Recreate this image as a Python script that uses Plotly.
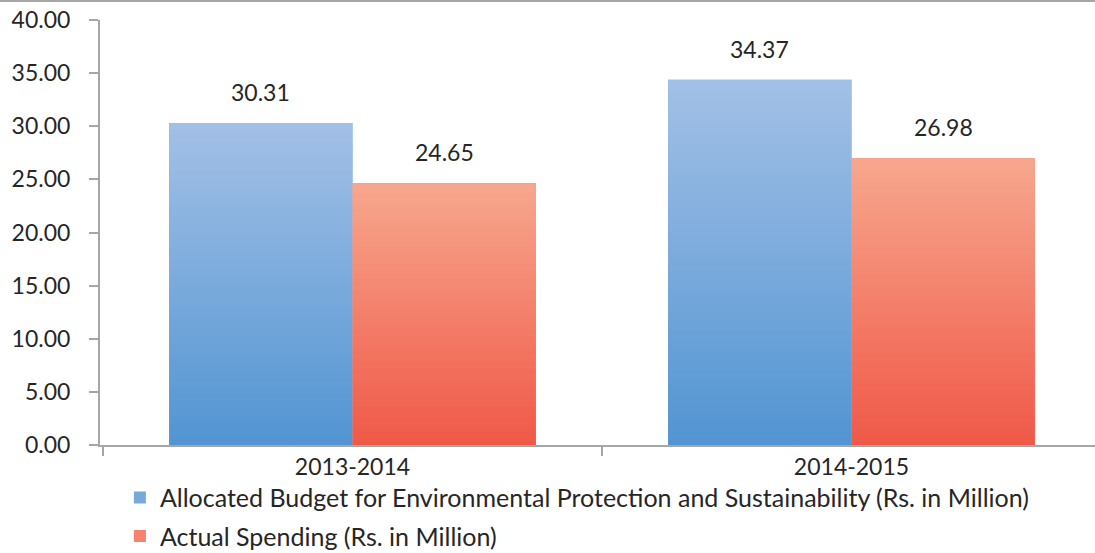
import base64
import struct
import zlib

import plotly.graph_objects as go

categories = ["2013-2014", "2014-2015"]
allocated = [30.31, 34.37]
actual = [24.65, 26.98]
series_names = [
    "Allocated Budget for Environmental Protection and Sustainability (Rs. in Million)",
    "Actual Spending (Rs. in Million)",
]
y_ticks = [0, 5, 10, 15, 20, 25, 30, 35, 40]

FONT = "Lato"
TXT = "#262626"
BARGAP = 0.265

# gradient colours (top, bottom) for each series, plus a solid mid colour
grad_colors = [((163, 192, 230), (82, 149, 210)), ((247, 167, 142), (240, 89, 72))]
solid_colors = ["#78a9dd", "#f4826c"]


def gradient_png(top, bottom, n=128):
    raw = b""
    for r in range(n):
        t = r / (n - 1)
        px = bytes(int(round(a + (b - a) * t)) for a, b in zip(top, bottom))
        raw += b"\x00" + px
    def chunk(tag, data):
        c = struct.pack(">I", len(data)) + tag + data
        return c + struct.pack(">I", zlib.crc32(tag + data) & 0xffffffff)
    png = b"\x89PNG\r\n\x1a\n"
    png += chunk(b"IHDR", struct.pack(">IIBBBBB", 1, n, 8, 2, 0, 0, 0))
    png += chunk(b"IDAT", zlib.compress(raw))
    png += chunk(b"IEND", b"")
    return "data:image/png;base64," + base64.b64encode(png).decode()


fig = go.Figure()
series = [allocated, actual]
for k, (vals, name) in enumerate(zip(series, series_names)):
    fig.add_trace(go.Bar(x=categories, y=vals, name=name, legendgroup=name,
                         marker=dict(color=solid_colors[k], line=dict(width=0))))

# gradient fill overlaid on each bar, placed through the data axes
w = (1 - BARGAP) / 2
for k, vals in enumerate(series):
    src = gradient_png(*grad_colors[k])
    for i, v in enumerate(vals):
        fig.add_layout_image(source=src, xref="x", yref="y",
                             x=i - (1 - BARGAP) / 2 + k * w, y=v,
                             sizex=w, sizey=v, xanchor="left", yanchor="top",
                             sizing="stretch", layer="above")

# value labels above bars
for k, vals in enumerate(series):
    for i, (c, v) in enumerate(zip(categories, vals)):
        fig.add_annotation(x=i - (1 - BARGAP) / 2 + (k + 0.5) * w, y=v,
                           text=f"{v:.2f}", showarrow=False,
                           yshift=31, yanchor="middle",
                           font=dict(family=FONT, size=23, color=TXT))

# top border line
fig.add_shape(type="line", xref="paper", yref="paper",
              x0=-0.2, x1=1.0, y0=1.0447, y1=1.0447,
              line=dict(color="#a6a6a6", width=2))

fig.update_layout(
    width=1095, height=553,
    margin=dict(l=100, r=0, t=20, b=108, autoexpand=False),
    paper_bgcolor="white", plot_bgcolor="white",
    barmode="group", bargap=BARGAP, bargroupgap=0,
    font=dict(family=FONT, size=23, color=TXT),
    showlegend=True,
    legend=dict(orientation="v", x=0.02, y=-0.07, xanchor="left", yanchor="top",
                font=dict(family=FONT, size=25, color=TXT), traceorder="grouped",
                tracegroupgap=3, itemwidth=30, bgcolor="rgba(0,0,0,0)"),
    xaxis=dict(range=[-0.506, 1.488], showline=True, linecolor="#a6a6a6", linewidth=2,
               ticks="outside", tickson="boundaries", ticklen=9, tickcolor="#a6a6a6",
               tickwidth=2, showgrid=False, zeroline=False, tickangle=0,
               tickfont=dict(family=FONT, size=23, color=TXT)),
    yaxis=dict(range=[0, 40], tickvals=y_ticks, tickformat=".2f",
               showline=True, linecolor="#a6a6a6", linewidth=2,
               ticks="outside", ticklen=9, tickcolor="#a6a6a6", tickwidth=2,
               ticklabelstandoff=14, showgrid=False, zeroline=False,
               tickfont=dict(family=FONT, size=23, color=TXT)),
)

fig.write_html("out.html")
